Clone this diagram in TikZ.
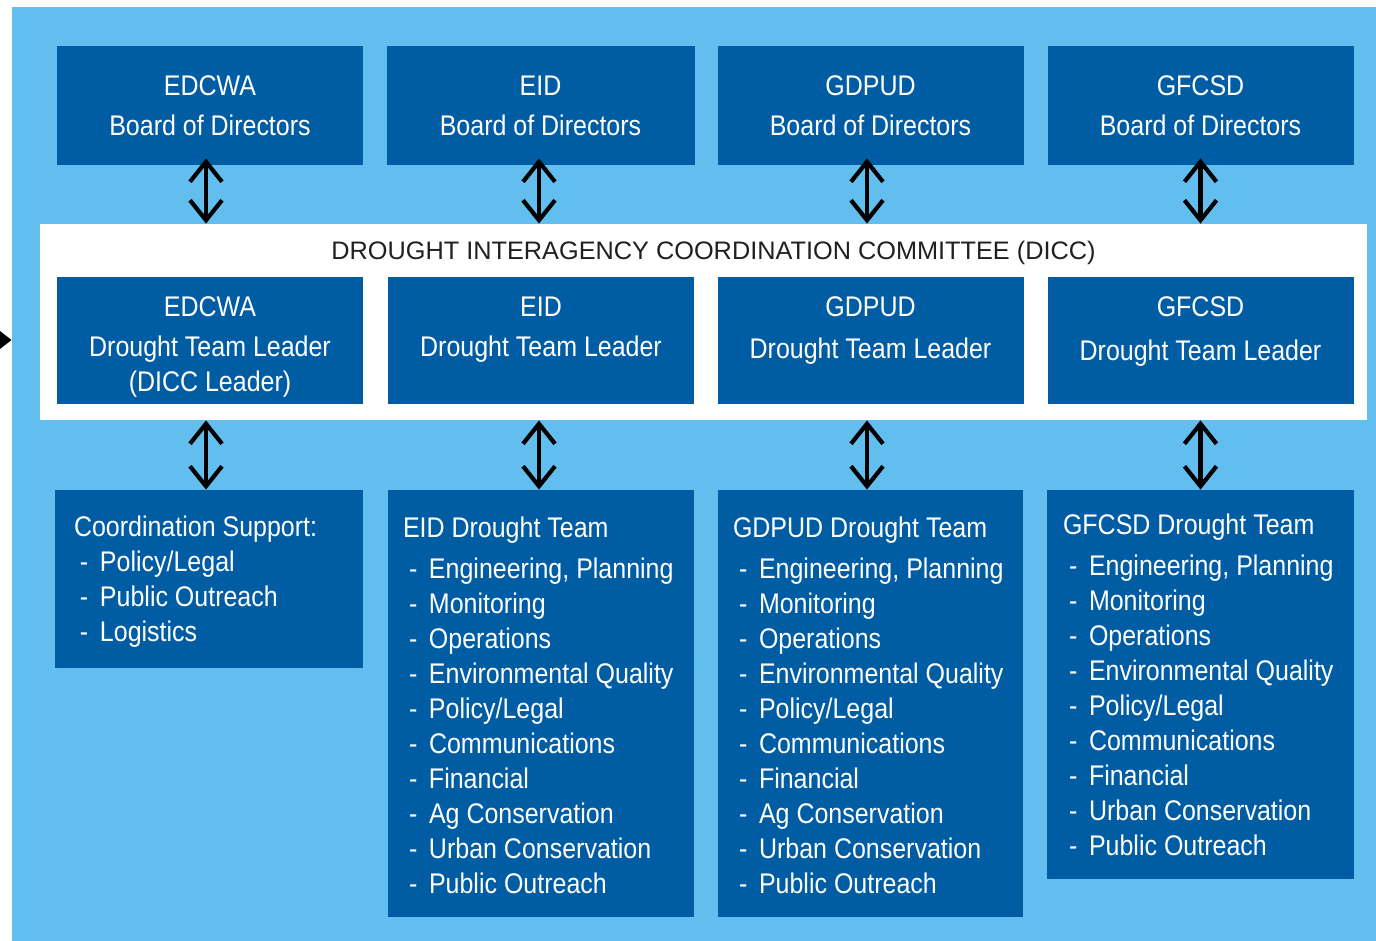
\documentclass[tikz,border=0pt]{standalone}
\usepackage{fontspec}
\setmainfont{Liberation Sans}
\newfontfamily\narrowsf{Liberation Sans}[FakeStretch=0.88]
\usetikzlibrary{arrows.meta}
\definecolor{skyback}{RGB}{99,190,240}
\definecolor{boxblue}{RGB}{0,93,164}
\definecolor{titleink}{RGB}{35,31,32}
\newcommand\itm[1]{\hspace*{3pt}\makebox[10pt][l]{-}#1}

\begin{document}
\begin{tikzpicture}[x=0.5pt,y=-0.5pt,
    panel/.style={fill=boxblue, inner sep=0pt, text=white, align=center,
        font=\narrowsf\fontsize{14.2}{20}\selectfont},
    leadtext/.style={anchor=north, inner sep=0pt, text=white, align=center,
        font=\narrowsf\fontsize{14.2}{20}\selectfont},
    listtext/.style={anchor=north west, inner sep=0pt, text=white, align=left,
        font=\narrowsf\fontsize{14.2}{17.5}\selectfont},
    link/.style={line width=2.1pt,
        {Straight Barb[length=10pt,width=16pt]}-{Straight Barb[length=10pt,width=16pt]}}]

    \useasboundingbox (0,0) rectangle (1376,941);
    \node[fill=skyback, minimum width=682pt, minimum height=467pt, inner sep=0pt] (bg) at (694,474) {};
    \node[fill=white, minimum width=663.5pt, minimum height=98pt, inner sep=0pt] (dicc) at (703.5,322) {};
    \node[text=titleink, inner sep=0pt, font=\fontsize{12.65}{15}\selectfont] (title) at (713.5,253) {DROUGHT INTERAGENCY COORDINATION COMMITTEE (DICC)};

    % boards
    \node[panel, minimum width=153pt, minimum height=59.5pt] (b1) at (210,105.5) {EDCWA\\Board of Directors};
    \node[panel, minimum width=154pt, minimum height=59.5pt] (b2) at (540.5,105.5) {EID\\Board of Directors};
    \node[panel, minimum width=153pt, minimum height=59.5pt] (b3) at (870.5,105.5) {GDPUD\\Board of Directors};
    \node[panel, minimum width=153pt, minimum height=59.5pt] (b4) at (1200.5,105.5) {GFCSD\\Board of Directors};

    % team leaders
    \node[panel, minimum width=153pt, minimum height=63.5pt] (l1) at (210,340.5) {};
    \node[panel, minimum width=153pt, minimum height=63.5pt] (l2) at (541,340.5) {};
    \node[panel, minimum width=153pt, minimum height=63.5pt] (l3) at (870.5,340.5) {};
    \node[panel, minimum width=153pt, minimum height=63.5pt] (l4) at (1200.5,340.5) {};
    \node[leadtext] (l1t) at ([yshift=-9.75pt]l1.north) {EDCWA\\Drought Team Leader\\[-2.5pt](DICC Leader)};
    \node[leadtext] (l2t) at ([yshift=-9.75pt]l2.north) {EID\\Drought Team Leader};
    \node[leadtext] (l3t) at ([yshift=-9.75pt]l3.north) {GDPUD\\[1pt]Drought Team Leader};
    \node[leadtext] (l4t) at ([yshift=-9.75pt]l4.north) {GFCSD\\[2pt]Drought Team Leader};

    % teams
    \node[panel, minimum width=154pt, minimum height=89pt] (t1) at (209,579) {};
    \node[panel, minimum width=153pt, minimum height=213.5pt] (t2) at (541,703.5) {};
    \node[panel, minimum width=152.5pt, minimum height=213.5pt] (t3) at (870.5,703.5) {};
    \node[panel, minimum width=153.5pt, minimum height=194.5pt] (t4) at (1200.5,684.5) {};
    \node[listtext] (t1t) at ([xshift=9.5pt,yshift=-13pt]t1.north west) {Coordination Support:\\
        \itm{Policy/Legal}\\\itm{Public Outreach}\\\itm{Logistics}};
    \node[listtext] (t2t) at ([xshift=7.5pt,yshift=-13.5pt]t2.north west) {EID Drought Team\\[3pt]
        \itm{Engineering, Planning}\\\itm{Monitoring}\\\itm{Operations}\\\itm{Environmental Quality}\\
        \itm{Policy/Legal}\\\itm{Communications}\\\itm{Financial}\\\itm{Ag Conservation}\\
        \itm{Urban Conservation}\\\itm{Public Outreach}};
    \node[listtext] (t3t) at ([xshift=7.5pt,yshift=-13.5pt]t3.north west) {GDPUD Drought Team\\[3pt]
        \itm{Engineering, Planning}\\\itm{Monitoring}\\\itm{Operations}\\\itm{Environmental Quality}\\
        \itm{Policy/Legal}\\\itm{Communications}\\\itm{Financial}\\\itm{Ag Conservation}\\
        \itm{Urban Conservation}\\\itm{Public Outreach}};
    \node[listtext] (t4t) at ([xshift=8pt,yshift=-12pt]t4.north west) {GFCSD Drought Team\\[3pt]
        \itm{Engineering, Planning}\\\itm{Monitoring}\\\itm{Operations}\\\itm{Environmental Quality}\\
        \itm{Policy/Legal}\\\itm{Communications}\\\itm{Financial}\\
        \itm{Urban Conservation}\\\itm{Public Outreach}};

    % links
    \draw[link, shorten <=-3.5pt] ([xshift=-2pt]b1.south) -- ([xshift=-2pt]b1.south |- dicc.north);
    \draw[link, shorten <=-3.5pt] ([xshift=-0.75pt]b2.south) -- ([xshift=-0.75pt]b2.south |- dicc.north);
    \draw[link, shorten <=-3.5pt] ([xshift=-1.75pt]b3.south) -- ([xshift=-1.75pt]b3.south |- dicc.north);
    \draw[link, shorten <=-3.5pt] (b4.south) -- (b4.south |- dicc.north);
    \draw[link] ([xshift=-1.5pt]t1.north |- dicc.south) -- ([xshift=-1.5pt]t1.north);
    \draw[link] ([xshift=-1pt]t2.north |- dicc.south) -- ([xshift=-1pt]t2.north);
    \draw[link] ([xshift=-1.75pt]t3.north |- dicc.south) -- ([xshift=-1.75pt]t3.north);
    \draw[link] (t4.north |- dicc.south) -- (t4.north);

    \coordinate (feed) at (-30,340);
    \draw[line width=1.5pt, -{Triangle[length=8pt,width=12pt]}] (feed) -- (feed -| bg.west);
\end{tikzpicture}
\end{document}
